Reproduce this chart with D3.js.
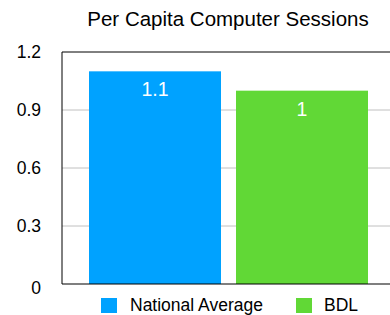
<!DOCTYPE html>
<html>
<head>
<meta charset="utf-8">
<script src="https://cdn.jsdelivr.net/npm/d3@7"></script>
<style>
  html, body { margin: 0; padding: 0; background: #fff; }
  svg { display: block; font-family: "Liberation Sans", Arial, Helvetica, sans-serif; }
</style>
</head>
<body>
<div id="chart"></div>
<script>
const SERIES = ["National Average", "BDL"];
const VALUES = [1.1, 1.0];
const LABELS = ["1.1", "1"];
const COLORS = ["#00a2ff", "#61d836"];
const Y_TICKS = [0, 0.3, 0.6, 0.9, 1.2];

const width = 390, height = 315;
const margin = { top: 52, right: 0, bottom: 31, left: 62 };
const svg = d3.select("#chart").append("svg")
  .attr("width", width).attr("height", height);

const y = d3.scaleLinear().domain([0, 1.2]).range([height - margin.bottom, margin.top]);
const x = d3.scaleBand().domain(SERIES).range([89, 368]).paddingInner(15 / 147).paddingOuter(0);

// gridlines
svg.append("g").selectAll("line")
  .data(Y_TICKS.filter((t) => t > 0 && t < 1.2))
  .join("line")
  .attr("x1", margin.left).attr("x2", width)
  .attr("y1", (d) => y(d)).attr("y2", (d) => y(d))
  .attr("stroke", "#c0c0c0").attr("stroke-width", 1);

// frame: top, left
svg.append("line").attr("x1", margin.left).attr("x2", width)
  .attr("y1", y(1.2)).attr("y2", y(1.2)).attr("stroke", "#000").attr("stroke-width", 1);
svg.append("line").attr("x1", margin.left).attr("x2", margin.left)
  .attr("y1", y(1.2)).attr("y2", y(0)).attr("stroke", "#000").attr("stroke-width", 1);

// bars
svg.append("g").selectAll("rect")
  .data(SERIES)
  .join("rect")
  .attr("x", (d) => x(d))
  .attr("y", (d, i) => y(VALUES[i]))
  .attr("width", x.bandwidth())
  .attr("height", (d, i) => y(0) - y(VALUES[i]))
  .attr("fill", (d, i) => COLORS[i]);

svg.append("line").attr("x1", margin.left).attr("x2", width)
  .attr("y1", y(0)).attr("y2", y(0)).attr("stroke", "#000").attr("stroke-width", 1.2);

// value labels
svg.append("g").selectAll("text")
  .data(SERIES)
  .join("text")
  .attr("x", (d) => x(d) + x.bandwidth() / 2)
  .attr("y", (d, i) => y(VALUES[i]) + 25)
  .attr("text-anchor", "middle")
  .attr("fill", "#fff")
  .attr("font-size", 19.5)
  .text((d, i) => LABELS[i]);

// y tick labels
svg.append("g").selectAll("text")
  .data(Y_TICKS)
  .join("text")
  .attr("x", 41)
  .attr("y", (d) => y(d) + (d === 0 ? 10 : 6))
  .attr("text-anchor", "end")
  .attr("font-size", 17.5)
  .attr("fill", "#000")
  .text((d) => d3.format("")(d));

// title
svg.append("text")
  .attr("x", 228).attr("y", 26)
  .attr("text-anchor", "middle")
  .attr("font-size", 20.5)
  .attr("fill", "#000")
  .text("Per Capita Computer Sessions");

// legend
const legendX = [101, 296];
const legend = svg.append("g").selectAll("g")
  .data(SERIES)
  .join("g")
  .attr("transform", (d, i) => `translate(${legendX[i]},298)`);
legend.append("rect").attr("width", 16).attr("height", 15)
  .attr("fill", (d, i) => COLORS[i]);
legend.append("text").attr("x", (d, i) => i === 0 ? 29 : 28).attr("y", 13)
  .attr("font-size", 17.5).attr("fill", "#000")
  .text((d) => d);
</script>
</body>
</html>
